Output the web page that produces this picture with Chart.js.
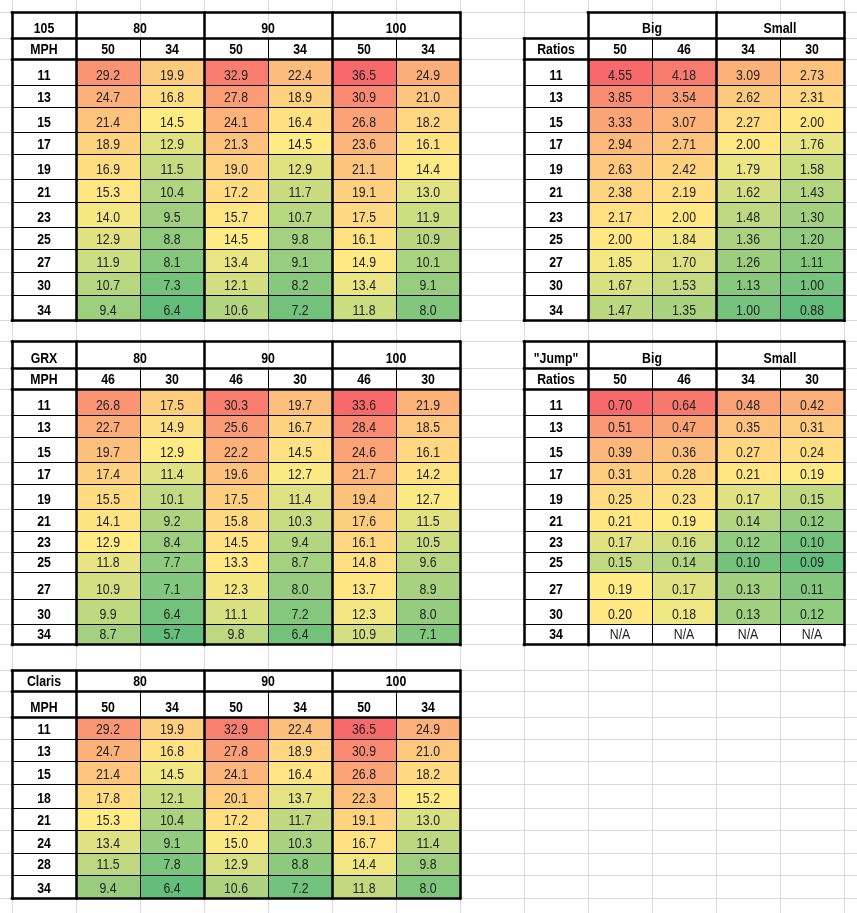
<!DOCTYPE html>
<html>
<head>
<meta charset="utf-8">
<title>Gear speed tables</title>
<script src="https://cdn.jsdelivr.net/npm/chart.js@4.4.1/dist/chart.umd.min.js"></script>
<style>
  html, body { margin: 0; padding: 0; background: #fff; }
  #wrap { width: 857px; height: 913px; position: relative; }
</style>
</head>
<body>
<div id="wrap"><canvas id="sheet"></canvas></div>
<script>
// Cadence (rpm) headers shared by the three speed tables
const cadences = ["80", "90", "100"];

// 105 groupset: chainrings, cogs and speed in mph
const rings105 = ["50", "34"];
const cogs105 = ["11", "13", "15", "17", "19", "21", "23", "25", "27", "30", "34"];
const mph105 = [
  [29.2, 19.9, 32.9, 22.4, 36.5, 24.9],
  [24.7, 16.8, 27.8, 18.9, 30.9, 21.0],
  [21.4, 14.5, 24.1, 16.4, 26.8, 18.2],
  [18.9, 12.9, 21.3, 14.5, 23.6, 16.1],
  [16.9, 11.5, 19.0, 12.9, 21.1, 14.4],
  [15.3, 10.4, 17.2, 11.7, 19.1, 13.0],
  [14.0, 9.5, 15.7, 10.7, 17.5, 11.9],
  [12.9, 8.8, 14.5, 9.8, 16.1, 10.9],
  [11.9, 8.1, 13.4, 9.1, 14.9, 10.1],
  [10.7, 7.3, 12.1, 8.2, 13.4, 9.1],
  [9.4, 6.4, 10.6, 7.2, 11.8, 8.0]
];

// GRX groupset
const ringsGrx = ["46", "30"];
const cogsGrx = ["11", "13", "15", "17", "19", "21", "23", "25", "27", "30", "34"];
const mphGrx = [
  [26.8, 17.5, 30.3, 19.7, 33.6, 21.9],
  [22.7, 14.9, 25.6, 16.7, 28.4, 18.5],
  [19.7, 12.9, 22.2, 14.5, 24.6, 16.1],
  [17.4, 11.4, 19.6, 12.7, 21.7, 14.2],
  [15.5, 10.1, 17.5, 11.4, 19.4, 12.7],
  [14.1, 9.2, 15.8, 10.3, 17.6, 11.5],
  [12.9, 8.4, 14.5, 9.4, 16.1, 10.5],
  [11.8, 7.7, 13.3, 8.7, 14.8, 9.6],
  [10.9, 7.1, 12.3, 8.0, 13.7, 8.9],
  [9.9, 6.4, 11.1, 7.2, 12.3, 8.0],
  [8.7, 5.7, 9.8, 6.4, 10.9, 7.1]
];

// Claris groupset
const ringsClaris = ["50", "34"];
const cogsClaris = ["11", "13", "15", "18", "21", "24", "28", "34"];
const mphClaris = [
  [29.2, 19.9, 32.9, 22.4, 36.5, 24.9],
  [24.7, 16.8, 27.8, 18.9, 30.9, 21.0],
  [21.4, 14.5, 24.1, 16.4, 26.8, 18.2],
  [17.8, 12.1, 20.1, 13.7, 22.3, 15.2],
  [15.3, 10.4, 17.2, 11.7, 19.1, 13.0],
  [13.4, 9.1, 15.0, 10.3, 16.7, 11.4],
  [11.5, 7.8, 12.9, 8.8, 14.4, 9.8],
  [9.4, 6.4, 10.6, 7.2, 11.8, 8.0]
];

// Gear ratios and the "jump" between neighbouring cogs
const ratioGroups = ["Big", "Small"];
const ratioRings = ["50", "46", "34", "30"];
const ratioCogs = ["11", "13", "15", "17", "19", "21", "23", "25", "27", "30", "34"];
const ratios = [
  [4.55, 4.18, 3.09, 2.73],
  [3.85, 3.54, 2.62, 2.31],
  [3.33, 3.07, 2.27, 2.00],
  [2.94, 2.71, 2.00, 1.76],
  [2.63, 2.42, 1.79, 1.58],
  [2.38, 2.19, 1.62, 1.43],
  [2.17, 2.00, 1.48, 1.30],
  [2.00, 1.84, 1.36, 1.20],
  [1.85, 1.70, 1.26, 1.11],
  [1.67, 1.53, 1.13, 1.00],
  [1.47, 1.35, 1.00, 0.88]
];
const jumps = [
  [0.70, 0.64, 0.48, 0.42],
  [0.51, 0.47, 0.35, 0.31],
  [0.39, 0.36, 0.27, 0.24],
  [0.31, 0.28, 0.21, 0.19],
  [0.25, 0.23, 0.17, 0.15],
  [0.21, 0.19, 0.14, 0.12],
  [0.17, 0.16, 0.12, 0.10],
  [0.15, 0.14, 0.10, 0.09],
  [0.19, 0.17, 0.13, 0.11],
  [0.20, 0.18, 0.13, 0.12],
  [null, null, null, null]
];

// Sheet layout: row heights as the sheet shows them, columns are all one width
const rowHeights = [12.7,
  25.6, 21.7, 26, 21.3, 25.4, 22.3, 25, 22.3, 25, 22, 23.4, 23.3, 24.7,
  21,
  26.6, 21.7, 26, 21.3, 25.4, 22.3, 24.3, 22.4, 21, 20, 26.6, 25, 20.7,
  26,
  20.7, 26, 21.6, 22.4, 22.6, 24, 22.4, 22.6, 21.7, 23.3,
  14.7];
const rowTop = [0];
rowHeights.forEach(h => rowTop.push(rowTop[rowTop.length - 1] + h));
const colEdges = [0, 1, 2, 3, 4, 5, 6, 7, 8, 9, 10, 11, 12, 13];

// where each table sits on the sheet (column, row of its top-left cell)
const tables = [
  { col: 0, row: 1, corner: "105", side: "MPH", groups: cadences, subs: rings105.concat(rings105, rings105), cogs: cogs105, values: mph105, digits: 1 },
  { col: 8, row: 1, corner: null, side: "Ratios", groups: ratioGroups, subs: ratioRings, cogs: ratioCogs, values: ratios, digits: 2 },
  { col: 0, row: 15, corner: "GRX", side: "MPH", groups: cadences, subs: ringsGrx.concat(ringsGrx, ringsGrx), cogs: cogsGrx, values: mphGrx, digits: 1 },
  { col: 8, row: 15, corner: "\"Jump\"", side: "Ratios", groups: ratioGroups, subs: ratioRings, cogs: ratioCogs, values: jumps, digits: 2 },
  { col: 0, row: 29, corner: "Claris", side: "MPH", groups: cadences, subs: ringsClaris.concat(ringsClaris, ringsClaris), cogs: cogsClaris, values: mphClaris, digits: 1 }
];

// Excel style 3-colour scale: green (low) - yellow (50th percentile) - red (high)
const LOW = [99, 190, 123], MID = [255, 235, 132], HIGH = [248, 105, 107];

function percentile(sorted, p) {
  const idx = (sorted.length - 1) * p;
  const lo = Math.floor(idx), hi = Math.ceil(idx);
  return sorted[lo] + (sorted[hi] - sorted[lo]) * (idx - lo);
}

function colourScale(values) {
  const all = values.flat().filter(v => v !== null).sort((a, b) => a - b);
  const min = all[0], max = all[all.length - 1], mid = percentile(all, 0.5);
  return v => {
    let a, b, t;
    if (v <= mid) { a = LOW; b = MID; t = (v - min) / (mid - min); }
    else { a = MID; b = HIGH; t = (v - mid) / (max - mid); }
    const c = a.map((x, i) => Math.round(x + (b[i] - x) * t));
    return "rgb(" + c.join(",") + ")";
  };
}

// a narrow face like Excel's Aptos Narrow; squeeze a normal one if it is missing
function pickFont() {
  const c = document.createElement("canvas").getContext("2d");
  c.font = "15px monospace";
  const w1 = c.measureText("MPH 29.2").width;
  c.font = '15px "Liberation Sans Narrow", monospace';
  const w2 = c.measureText("MPH 29.2").width;
  return w1 !== w2 ? { family: '"Liberation Sans Narrow"', squeeze: 1 } : { family: '"Liberation Sans", Arial', squeeze: 0.82 };
}
const face = pickFont();

function drawTable(ctx, t, X, Y) {
  const nCols = 1 + t.subs.length, nRows = 2 + t.cogs.length;
  const c0 = t.col, r0 = t.row;
  const span = t.subs.length / t.groups.length;
  const fill = colourScale(t.values);

  // coloured value cells
  t.values.forEach((row, i) => row.forEach((v, j) => {
    if (v === null) return;
    const x1 = X(c0 + 1 + j), x2 = X(c0 + 2 + j);
    const y1 = Y(r0 + 2 + i), y2 = Y(r0 + 3 + i);
    ctx.fillStyle = fill(v);
    ctx.fillRect(x1, y1, x2 - x1, y2 - y1);
  }));

  // text, sitting near the bottom of each cell like Excel does
  function text(s, cA, cB, r, bold, colour) {
    const x = (X(cA) + X(cB)) / 2;
    const y = Y(r + 1) - 5.8;
    ctx.save();
    ctx.font = (bold ? "bold " : "") + "15px " + face.family;
    ctx.fillStyle = colour;
    ctx.textAlign = "center";
    ctx.textBaseline = "alphabetic";
    ctx.translate(x, y);
    ctx.scale(face.squeeze, 1);
    ctx.fillText(s, 0, 0);
    ctx.restore();
  }
  if (t.corner) text(t.corner, c0, c0 + 1, r0, true, "#000");
  text(t.side, c0, c0 + 1, r0 + 1, true, "#000");
  t.groups.forEach((g, k) => text(g, c0 + 1 + k * span, c0 + 1 + (k + 1) * span, r0, true, "#000"));
  t.subs.forEach((s, j) => text(s, c0 + 1 + j, c0 + 2 + j, r0 + 1, true, "#000"));
  t.cogs.forEach((s, i) => text(s, c0, c0 + 1, r0 + 2 + i, true, "#000"));
  t.values.forEach((row, i) => row.forEach((v, j) => {
    text(v === null ? "N/A" : v.toFixed(t.digits), c0 + 1 + j, c0 + 2 + j, r0 + 2 + i, false, "#222");
  }));

  // borders
  function snap(p, w) { return Math.round(w) % 2 ? Math.round(p - 0.5) + 0.5 : Math.round(p); }
  function hLine(r, cA, cB, w) {
    const y = snap(Y(r), w);
    ctx.lineWidth = w;
    ctx.beginPath(); ctx.moveTo(X(cA) - (w > 1 ? w / 2 : 0), y); ctx.lineTo(X(cB) + (w > 1 ? w / 2 : 0), y); ctx.stroke();
  }
  function vLine(c, rA, rB, w) {
    const x = snap(X(c), w);
    ctx.lineWidth = w;
    ctx.beginPath(); ctx.moveTo(x, Y(rA) - (w > 1 ? w / 2 : 0)); ctx.lineTo(x, Y(rB) + (w > 1 ? w / 2 : 0)); ctx.stroke();
  }
  ctx.save();
  ctx.strokeStyle = "#000";
  const thin = 1, thick = 2.5;
  for (let r = r0 + 3; r < r0 + nRows; r++) hLine(r, c0, c0 + nCols, thin);
  for (let c = c0 + 2; c < c0 + nCols; c++) vLine(c, r0 + 1, r0 + nRows, thin);

  const left = t.corner ? c0 : c0 + 1;
  hLine(r0, left, c0 + nCols, thick);
  hLine(r0 + 1, c0, c0 + nCols, thick);
  hLine(r0 + 2, c0, c0 + nCols, thick);
  hLine(r0 + nRows, c0, c0 + nCols, thick);
  vLine(c0, t.corner ? r0 : r0 + 1, r0 + nRows, thick);
  for (let k = 0; k <= t.groups.length; k++) vLine(c0 + 1 + k * span, r0, r0 + nRows, thick);
  ctx.restore();
}

const sheetTables = {
  id: "sheetTables",
  afterDatasetsDraw(chart) {
    const xs = chart.scales.x, ys = chart.scales.y;
    const X = c => xs.getPixelForValue(c);
    const Y = r => ys.getPixelForValue(rowTop[r]);
    tables.forEach(t => drawTable(chart.ctx, t, X, Y));
  }
};

new Chart(document.getElementById("sheet"), {
  type: "scatter",
  data: { datasets: [{ data: [] }] },
  options: {
    responsive: true,
    maintainAspectRatio: false,
    animation: false,
    layout: { padding: 0 },
    plugins: { legend: { display: false }, tooltip: { enabled: false } },
    scales: {
      x: {
        type: "linear",
        min: -12 / 64,
        max: 845 / 64,
        ticks: { display: false },
        border: { display: false },
        grid: { color: "#d9d9d9", lineWidth: 1, drawTicks: false },
        afterBuildTicks: s => { s.ticks = colEdges.map(v => ({ value: v })); }
      },
      y: {
        type: "linear",
        reverse: true,
        min: 0,
        max: rowTop[rowTop.length - 1],
        ticks: { display: false },
        border: { display: false },
        grid: { color: "#d9d9d9", lineWidth: 1, drawTicks: false },
        afterBuildTicks: s => { s.ticks = rowTop.slice(1, -1).map(v => ({ value: v })); }
      }
    }
  },
  plugins: [sheetTables]
});
</script>
</body>
</html>
